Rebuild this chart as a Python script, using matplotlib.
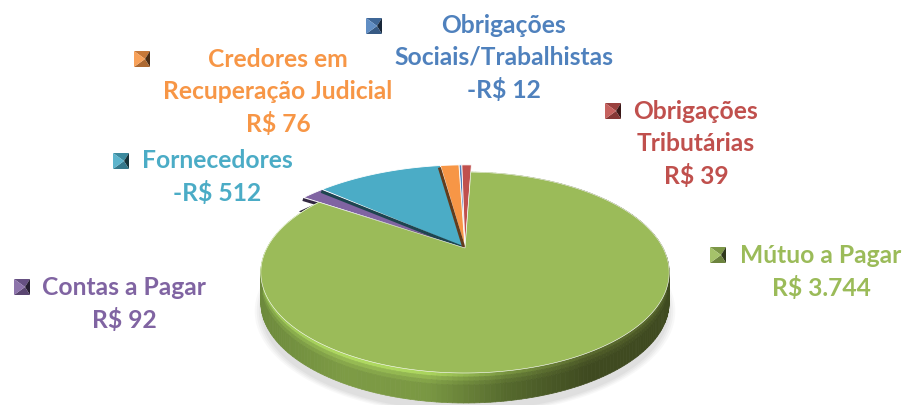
import numpy as np
import matplotlib
matplotlib.use("Agg")
import matplotlib.pyplot as plt
from matplotlib.collections import PolyCollection
from matplotlib.colors import LinearSegmentedColormap, to_rgb
from matplotlib.patches import Polygon
from matplotlib.transforms import Affine2D

plt.rcParams['font.family'] = ['Lato', 'DejaVu Sans']

# dados, do topo da pizza em sentido horario
categories = ["Obrigações\nSociais/Trabalhistas", "Obrigações\nTributárias", "Mútuo a Pagar",
              "Contas a Pagar", "Fornecedores", "Credores em\nRecuperação Judicial"]
values = [12, 39, 3744, 92, 512, 76]
value_labels = ["-R$ 12", "R$ 39", "R$ 3.744", "R$ 92", "-R$ 512", "R$ 76"]
colors = ["#4f81bd", "#c0504d", "#9bbb59", "#8064a2", "#4bacc6", "#f79646"]

# layout em pixels
text_pos = [(504, 58), (696, 144), (821, 272), (124, 304), (217, 177), (278, 92)]
key_pos = [(374, 26), (142, 59), (613, 111), (121, 161), (718, 255), (22, 287)]
key_order = [0, 5, 1, 4, 2, 3]

CX, CY = 465, 248
A, B, P = 94.5, 198, 0.244
DEPTH = 30
MAIN = 2
SMALL_SCALE = 1.12


def project(pts):
    # perspectiva simples do disco unitario para pixels
    u, v = pts[:, 0], pts[:, 1]
    s = 1 + P * v
    return np.column_stack([CX + B * u / s, CY - A * v / s])


def shade(color, f):
    c = np.array(to_rgb(color))
    return tuple(c * f) if f <= 1 else tuple(c + (1 - c) * (f - 1))


def draw_key(ax, x, y, color, size=8):
    corners = [(x - size, y - size), (x + size, y - size), (x + size, y + size), (x - size, y + size)]
    factors = [0.8, 0.3, 0.7, 1.1]
    for i in range(4):
        tri = [corners[i], corners[(i + 1) % 4], (x + 3, y)]
        ax.add_patch(Polygon(tri, fc=shade(color, factors[i]), ec="none", zorder=5))


fig = plt.figure(figsize=(9.06, 4.05), dpi=100)
ax = fig.add_axes([0, 0, 1, 1])

wedges, _ = ax.pie(values, colors=colors, startangle=92, counterclock=False)
polys = []
for i, w in enumerate(wedges):
    scale = 1.0 if i == MAIN else SMALL_SCALE
    path = w.get_patch_transform().transform_path(w.get_path())
    pts = path.to_polygons(Affine2D().scale(1000), closed_only=True)[0] / 1000
    polys.append(pts * scale)
    w.remove()

ax.set_aspect("auto")
ax.set_xlim(0, 906)
ax.set_ylim(405, 0)
ax.axis("off")

# sombra
main_pts = polys[MAIN]
rim = main_pts[np.hypot(main_pts[:, 0], main_pts[:, 1]) > 0.99]
rim_px = project(rim)
theta = np.linspace(0, 2 * np.pi, 200)
disc = project(np.column_stack([np.cos(theta), np.sin(theta)]))
for grow, alpha in [(1.03, 0.05), (1.02, 0.06), (1.01, 0.07), (1.0, 0.08)]:
    shadow = disc.copy()
    shadow[:, 0] = CX + (shadow[:, 0] - CX) * grow
    shadow[:, 1] = CY + (shadow[:, 1] - CY) * grow + DEPTH + 8
    ax.add_patch(Polygon(shadow, fc="#808080", ec="none", alpha=alpha, zorder=1))

# fatias pequenas: lateral, corte radial e depois o topo
for i, pts in enumerate(polys):
    if i == MAIN:
        continue
    px = project(pts)
    ax.add_patch(Polygon(px + [-5, 14], fc=shade(colors[i], 0.4), ec="none", zorder=2))
for i, pts in enumerate(polys):
    if i == MAIN:
        continue
    ax.add_patch(Polygon(project(pts), fc=colors[i], ec="white", lw=0.6, zorder=3))
    if i > MAIN:
        corner = project(pts[[np.argmin(pts[:, 0])]])[0]
        ax.plot([corner[0] - 1, CX - 1], [corner[1] + 2, CY], color=shade(colors[i], 0.4),
                lw=2.2, solid_capstyle="butt", zorder=3.1)

# lateral da fatia principal, escurecendo para a direita
wall_cmap = LinearSegmentedColormap.from_list(
    "wall", ["#6d8a3c", "#7d9b45", "#7a9843", "#55692d", "#3f4a20", "#3f4a20"])
xmin = rim_px[:, 0].min()
span = rim_px[:, 0].max() - xmin
bands = [(0, 4, 1.4), (4, 8, 1.2), (8, 12, 1.08), (12, DEPTH, 1.0)]
for top, bottom, gain in bands:
    quads = []
    quad_colors = []
    for a, b in zip(rim_px[:-1], rim_px[1:]):
        # pula o salto entre o fim e o comeco do arco
        if np.hypot(*(b - a)) > 30:
            continue
        quads.append([a + [0, top], b + [0, top], b + [0, bottom], a + [0, bottom]])
        base = np.array(wall_cmap((a[0] - xmin) / span)[:3])
        quad_colors.append(tuple(np.clip(base * gain, 0, 1)))
    ax.add_collection(PolyCollection(quads, facecolors=quad_colors, edgecolors=quad_colors,
                                     linewidths=0.5, zorder=3.2))

ax.add_patch(Polygon(project(main_pts), fc=colors[MAIN], ec="white", lw=0.4, zorder=3.5))

# textos e chaves da legenda
for i, cat in enumerate(categories):
    ax.text(text_pos[i][0], text_pos[i][1], cat + "\n" + value_labels[i], color=colors[i],
            fontsize=17.7, fontweight="bold", ha="center", va="center", linespacing=1.45, zorder=6)
for pos, i in zip(key_pos, key_order):
    draw_key(ax, pos[0], pos[1], colors[i])

fig.savefig("out.png", dpi=100, facecolor="white")
